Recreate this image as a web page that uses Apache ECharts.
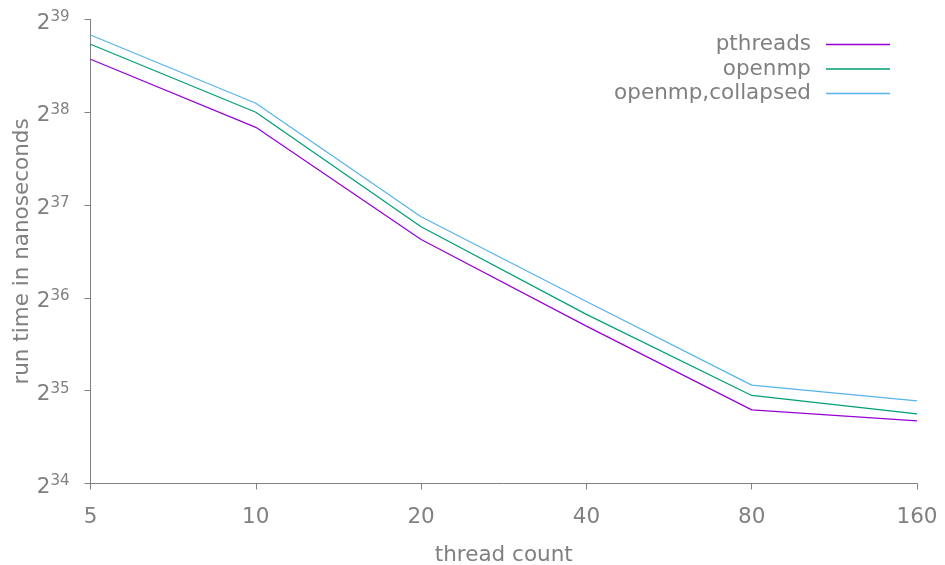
<!DOCTYPE html>
<html>
<head>
<meta charset="utf-8">
<script src="https://cdn.jsdelivr.net/npm/echarts@6/dist/echarts.min.js"></script>
<style>
  html, body { margin: 0; padding: 0; background: #fff; }
  #chart { width: 945px; height: 565px; }
</style>
</head>
<body>
<div id="chart"></div>
<script>
// thread counts on the x axis
const threadCounts = ['5', '10', '20', '40', '80', '160'];

// measured run time in nanoseconds
const pthreads = [4.084e11, 2.457e11, 1.063e11, 5.566e10, 2.977e10, 2.743e10];
const openmp = [4.569e11, 2.749e11, 1.169e11, 6.075e10, 3.317e10, 2.889e10];
const openmpCollapsed = [4.897e11, 2.940e11, 1.260e11, 6.689e10, 3.582e10, 3.184e10];

const seriesNames = ['pthreads', 'openmp', 'openmp,collapsed'];
const seriesColors = ['#9400d3', '#009e73', '#56b4e9'];
const seriesData = [pthreads, openmp, openmpCollapsed];

// y range in powers of two
const yMinExp = 34;
const yMaxExp = 39;

const grey = '#808080';
const font = 'DejaVu Sans';
const fontSize = 21.5;

const chart = echarts.init(document.getElementById('chart'), null, { renderer: 'canvas' });

chart.setOption({
  animation: false,
  backgroundColor: '#ffffff',
  textStyle: { fontFamily: font, color: grey },
  grid: { left: 90.5, right: 28, top: 19.5, bottom: 81.5, containLabel: false, outerBoundsMode: 'none' },
  legend: {
    orient: 'vertical',
    right: 55,
    top: 33.5,
    padding: 0,
    align: 'right',
    itemWidth: 64,
    itemHeight: 1.5,
    itemGap: 2.5,
    icon: 'rect',
    textStyle: { fontFamily: font, fontSize: fontSize, color: grey, lineHeight: 20, padding: [0, 10, 0, 0] },
    data: seriesNames.map((n, i) => ({ name: n, itemStyle: { color: seriesColors[i] } }))
  },
  xAxis: {
    type: 'category',
    data: threadCounts,
    boundaryGap: false,
    name: 'thread count',
    nameLocation: 'middle',
    nameGap: 61,
    nameMoveOverlap: false,
    nameTextStyle: { fontFamily: font, fontSize: fontSize, color: grey },
    axisLine: { show: true, onZero: false, lineStyle: { color: grey, width: 1 } },
    axisTick: { show: true, inside: false, length: 6, alignWithLabel: true, interval: 0, lineStyle: { color: grey, width: 1 } },
    axisLabel: { fontFamily: font, fontSize: fontSize, color: grey, margin: 23, interval: 0 },
    splitLine: { show: false }
  },
  yAxis: {
    type: 'log',
    logBase: 2,
    min: Math.pow(2, yMinExp),
    max: Math.pow(2, yMaxExp),
    splitNumber: yMaxExp - yMinExp,
    name: 'run time in nanoseconds',
    nameLocation: 'middle',
    nameGap: 57,
    nameMoveOverlap: false,
    nameTextStyle: { fontFamily: font, fontSize: fontSize, color: grey },
    axisLine: { show: true, lineStyle: { color: grey, width: 1 } },
    axisTick: { show: true, inside: false, length: 6, lineStyle: { color: grey, width: 1 } },
    splitLine: { show: false },
    axisLabel: {
      margin: 21,
      padding: [5, 0, 0, 0],
      formatter: v => '{b|2}{s|' + Math.round(Math.log2(v)) + '}',
      rich: {
        b: { fontFamily: font, fontSize: fontSize, color: grey, verticalAlign: 'bottom', lineHeight: 24 },
        s: { fontFamily: font, fontSize: 15, color: grey, verticalAlign: 'top', lineHeight: 24, padding: [0, 0, 8, 0] }
      }
    }
  },
  series: seriesNames.map((n, i) => ({
    name: n,
    type: 'line',
    data: seriesData[i],
    showSymbol: false,
    symbol: 'none',
    lineStyle: { color: seriesColors[i], width: 1.2 },
    itemStyle: { color: seriesColors[i] }
  }))
});
</script>
</body>
</html>
